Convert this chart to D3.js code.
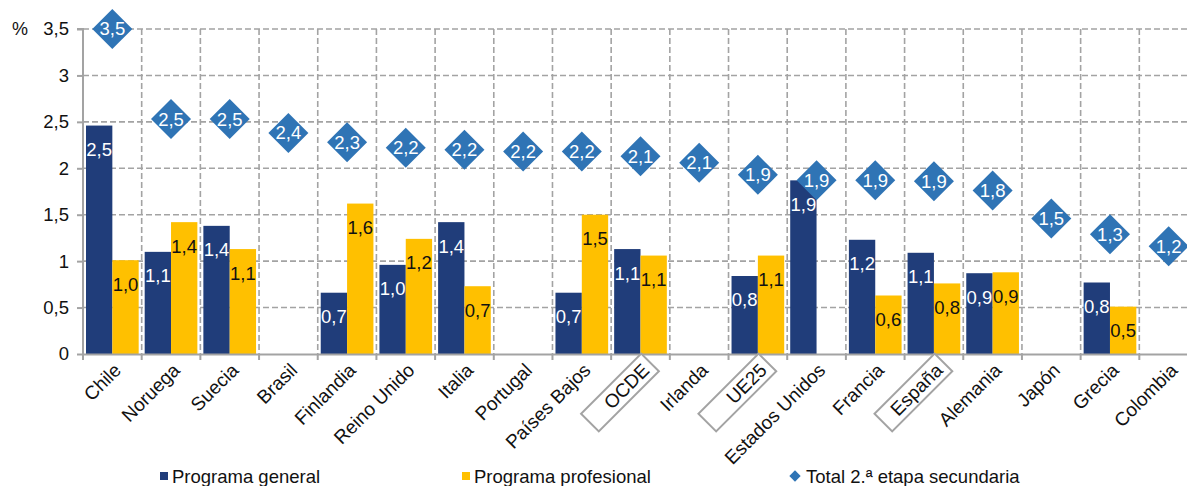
<!DOCTYPE html>
<html>
<head>
<meta charset="utf-8">
<script src="https://cdn.jsdelivr.net/npm/d3@7/dist/d3.min.js"></script>
<style>
  html, body { margin: 0; padding: 0; background: #fff; }
  svg { display: block; font-family: "Liberation Sans", Arial, sans-serif; }
</style>
</head>
<body>
<svg id="chart" width="1187" height="486"></svg>
<script>
const categories = ["Chile","Noruega","Suecia","Brasil","Finlandia","Reino Unido","Italia","Portugal","Países Bajos","OCDE","Irlanda","UE25","Estados Unidos","Francia","España","Alemania","Japón","Grecia","Colombia"];
const general    = [2.46, 1.10, 1.38, null, 0.66, 0.96, 1.42, null, 0.66, 1.13, null, 0.84, 1.87, 1.23, 1.09, 0.87, null, 0.77, null];
const profesional= [1.01, 1.42, 1.13, null, 1.62, 1.24, 0.73, null, 1.50, 1.06, null, 1.06, null, 0.63, 0.76, 0.88, null, 0.51, null];
const total      = [3.50, 2.53, 2.53, 2.38, 2.28, 2.22, 2.20, 2.18, 2.18, 2.13, 2.06, 1.93, 1.87, 1.87, 1.86, 1.76, 1.46, 1.29, 1.16];
const yTicks     = [0, 0.5, 1, 1.5, 2, 2.5, 3, 3.5];
const boxed      = ["OCDE", "UE25", "España"];
const seriesNames = ["Programa general", "Programa profesional", "Total 2.ª etapa secundaria"];

const C_GEN = "#203D7A", C_PRO = "#FFC000", C_TOT = "#2F74B5", C_GRID = "#A3A3A3";
const fmt = v => v.toFixed(1).replace(".", ",");

const svg = d3.select("#chart");
const pLeft = 83, pRight = 1198, pTop = 29, pBottom = 354;

const x = d3.scaleBand().domain(categories).range([pLeft, pRight]).paddingInner(0).paddingOuter(0);
const y = d3.scaleLinear().domain([0, 3.5]).range([pBottom, pTop]);
const bw = x.bandwidth();
const pad = 3;
const barW = (bw - 2 * pad) / 2;

// horizontal gridlines
svg.append("g").selectAll("line").data(yTicks.filter(d => d > 0)).join("line")
  .attr("x1", pLeft).attr("x2", pRight)
  .attr("y1", d => y(d)).attr("y2", d => y(d))
  .attr("stroke", C_GRID).attr("stroke-width", 1.6).attr("stroke-dasharray", "6,3");

// vertical gridlines at category boundaries
const bounds = categories.slice(1).map(c => x(c)).concat([pRight]);
svg.append("g").selectAll("line").data(bounds).join("line")
  .attr("x1", d => d).attr("x2", d => d)
  .attr("y1", pTop).attr("y2", pBottom)
  .attr("stroke", C_GRID).attr("stroke-width", 1.6).attr("stroke-dasharray", "6,3");

// y axis
const yAxis = d3.axisLeft(y).tickValues(yTicks).tickSize(6).tickPadding(8)
  .tickFormat(d => d === 0 ? "0" : String(d).replace(".", ","));
const ya = svg.append("g").attr("transform", `translate(${pLeft},0)`).call(yAxis);
ya.select(".domain").attr("stroke", C_GRID).attr("stroke-width", 2).attr("d", `M-6,${pTop}H0V${pBottom}`);
ya.selectAll(".tick line").attr("stroke", C_GRID).attr("stroke-width", 2);
ya.selectAll(".tick text").attr("font-size", "18.5px").attr("fill", "#111").attr("font-family", "Liberation Sans, Arial, sans-serif");

svg.append("text").attr("x", 12).attr("y", pTop).attr("dy", "0.35em")
  .attr("font-size", "18px").attr("fill", "#111").text("%");

// bars
const gBars = svg.append("g");
categories.forEach((c, i) => {
  const x0 = x(c) + pad;
  if (general[i] != null) {
    gBars.append("rect").attr("x", x0).attr("y", y(general[i]))
      .attr("width", barW).attr("height", y(0) - y(general[i])).attr("fill", C_GEN);
  }
  if (profesional[i] != null) {
    gBars.append("rect").attr("x", x0 + barW).attr("y", y(profesional[i]))
      .attr("width", barW).attr("height", y(0) - y(profesional[i])).attr("fill", C_PRO);
  }
});

// bottom axis
const xAxis = d3.axisBottom(x).tickSize(0).tickFormat("");
const xa = svg.append("g").attr("transform", `translate(0,${pBottom})`).call(xAxis);
xa.select(".domain").attr("stroke", C_GRID).attr("stroke-width", 2);
svg.append("g").selectAll("line").data([pLeft].concat(bounds)).join("line")
  .attr("x1", d => d).attr("x2", d => d).attr("y1", pBottom).attr("y2", pBottom + 6)
  .attr("stroke", C_GRID).attr("stroke-width", 2);

// bar labels
categories.forEach((c, i) => {
  const x0 = x(c) + pad;
  if (general[i] != null) {
    gBars.append("text").attr("x", x0 + barW / 2).attr("y", y(general[i]) + 24).attr("dy", "0.35em")
      .attr("text-anchor", "middle").attr("font-size", "18.5px").attr("fill", "#fff").text(fmt(general[i]));
  }
  if (profesional[i] != null) {
    gBars.append("text").attr("x", x0 + barW * 1.5).attr("y", y(profesional[i]) + 24).attr("dy", "0.35em")
      .attr("text-anchor", "middle").attr("font-size", "18.5px").attr("fill", "#111").text(fmt(profesional[i]));
  }
});

// diamonds
const gTot = svg.append("g");
const s = 28.3;
categories.forEach((c, i) => {
  const cx = x(c) + bw / 2, cy = y(total[i]);
  gTot.append("rect").attr("x", -s / 2).attr("y", -s / 2).attr("width", s).attr("height", s)
    .attr("transform", `translate(${cx},${cy}) rotate(45)`).attr("fill", C_TOT);
  gTot.append("text").attr("x", cx).attr("y", cy).attr("dy", "0.35em").attr("text-anchor", "middle")
    .attr("font-size", "18.5px").attr("fill", "#fff").text(fmt(total[i]));
});

// x labels
const gX = svg.append("g");
categories.forEach(c => {
  const cx = x(c) + bw / 2;
  const g = gX.append("g").attr("transform", `translate(${cx + 6},${pBottom + 12}) rotate(-45)`);
  if (boxed.includes(c)) {
    g.append("rect").attr("x", -80).attr("y", -12.5).attr("width", 85).attr("height", 25)
      .attr("fill", "#fff").attr("stroke", C_GRID).attr("stroke-width", 2);
  }
  g.append("text").attr("x", -1).attr("y", 0).attr("dy", "0.35em").attr("text-anchor", "end")
    .attr("font-size", "19px").attr("fill", "#111").text(c);
});

// legend
const lg = svg.append("g");
lg.append("rect").attr("x", 160).attr("y", 472).attr("width", 8).attr("height", 8).attr("fill", C_GEN);
lg.append("text").attr("x", 172).attr("y", 483).attr("font-size", "18.5px").attr("fill", "#111").text(seriesNames[0]);
lg.append("rect").attr("x", 462).attr("y", 472).attr("width", 8).attr("height", 8).attr("fill", C_PRO);
lg.append("text").attr("x", 474).attr("y", 483).attr("font-size", "18.5px").attr("fill", "#111").text(seriesNames[1]);
lg.append("rect").attr("x", -4).attr("y", -4).attr("width", 8).attr("height", 8)
  .attr("transform", "translate(795,476) rotate(45)").attr("fill", C_TOT);
lg.append("text").attr("x", 806).attr("y", 483).attr("font-size", "18.5px").attr("fill", "#111").text(seriesNames[2]);
</script>
</body>
</html>
